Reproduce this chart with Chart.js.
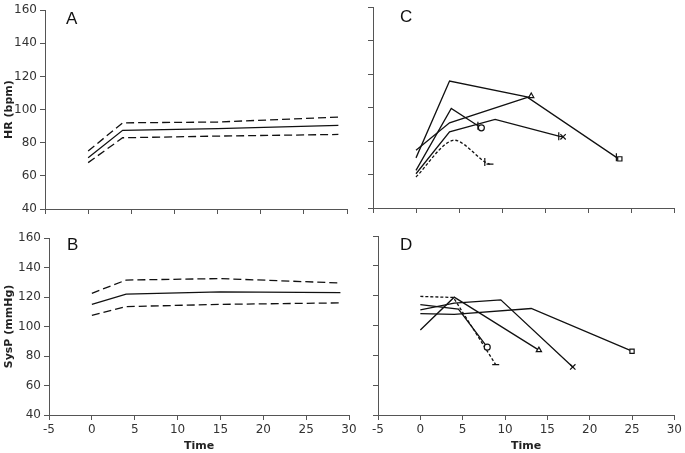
<!DOCTYPE html>
<html lang="en">
<head>
<meta charset="UTF-8">
<title>HR and SysP over time</title>
<script src="https://cdn.jsdelivr.net/npm/chart.js"></script>
<style>
    html, body { margin: 0; padding: 0; background: #fff; }
    #wrap { position: relative; width: 685px; height: 453px; }
    #wrap canvas { position: absolute; left: 0; top: 0; }
</style>
</head>
<body>
<div id="wrap">
    <canvas id="panelA" width="685" height="453"></canvas>
    <canvas id="panelB" width="685" height="453"></canvas>
    <canvas id="panelC" width="685" height="453"></canvas>
    <canvas id="panelD" width="685" height="453"></canvas>
</div>
<script>
    // A / B: group mean with upper and lower band
    const timeAB = [0, 4, 15, 29];
    const hrMean = [71, 87.5, 88.5, 90.5];
    const hrUpper = [75, 92, 92.5, 95.5];
    const hrLower = [68, 83, 84, 85];
    const sysMean = [115, 122, 123.5, 123];
    const sysUpper = [122.5, 131.5, 132.5, 129.5];
    const sysLower = [107.5, 113.5, 115, 116];

    // C: individual HR curves
    const cTriT = [0, 3.9, 13.4];
    const cTriY = [74.5, 91, 107];
    const cSqT = [0, 3.9, 12.9, 23.3, 23.7];
    const cSqY = [70, 116, 106.5, 70.3, 69.4];
    const cCirT = [0, 4.1, 7.2, 7.6];
    const cCirY = [62.5, 99.6, 89.2, 88];
    const cXT = [0, 3.9, 9.2, 16.6, 17.1];
    const cXY = [60.5, 85.6, 93, 83, 82.6];
    const cDashT = [0, 4.3, 8.0, 8.6];
    const cDashY = [58.6, 80.5, 67.6, 66.2];

    // D: individual SysP curves
    const dDashT = [0, 3.9, 8.9];
    const dDashY = [119.5, 118.8, 73.8];
    const dCirT = [0, 4.5, 7.9];
    const dCirY = [114, 111, 85.5];
    const dTriT = [0, 4, 14];
    const dTriY = [97, 119, 83.5];
    const dXT = [0, 4, 9.5, 18];
    const dXY = [110.5, 115, 117.2, 72.2];
    const dSqT = [0, 4, 13.1, 25];
    const dSqY = [108, 107.5, 111.4, 82.8];

    const ink = '#111';
    const axisInk = '#555';
    const tickFont = {family: '"DejaVu Sans", Verdana, sans-serif', size: 12};
    const titleFont = {family: '"DejaVu Sans", Verdana, sans-serif', size: 11, weight: 'bold'};

    function pts(xs, ys) {
        return xs.map((x, i) => ({x: x, y: ys[i]}));
    }

    function bandLine(xs, ys, dashed) {
        return {
            data: pts(xs, ys),
            showLine: true,
            borderColor: ink,
            borderWidth: 1.3,
            borderDash: dashed ? [8, 4] : [],
            pointRadius: 0
        };
    }

    // only the end of each curve gets a marker (plus a small '|' just before it when tick is set)
    function subject(xs, ys, mark, tick, dashed, smooth) {
        const n = xs.length;
        const style = xs.map(() => 'circle');
        const radius = xs.map(() => 0);
        const rot = xs.map(() => 0);
        style[n - 1] = mark;
        radius[n - 1] = mark === 'line' ? 3.5 : (mark === 'crossRot' ? 3.8 : 3);
        if (tick) {
            style[n - 2] = 'line';
            rot[n - 2] = 90;
            radius[n - 2] = 4;
        }
        return {
            data: pts(xs, ys),
            showLine: true,
            borderColor: ink,
            borderWidth: 1.3,
            borderDash: dashed ? [3, 2] : [],
            tension: smooth ? 0.3 : 0,
            pointStyle: style,
            pointRadius: radius,
            pointRotation: rot,
            pointBorderColor: ink,
            pointBackgroundColor: '#fff',
            pointBorderWidth: 1.2
        };
    }

    const panelLetter = {
        id: 'panelLetter',
        afterDraw(chart, args, opts) {
            const ctx = chart.ctx;
            ctx.save();
            ctx.font = '17px "Liberation Sans", Arial, sans-serif';
            ctx.fillStyle = ink;
            ctx.textAlign = 'left';
            ctx.textBaseline = 'middle';
            ctx.fillText(opts.text, chart.chartArea.left + opts.dx, chart.chartArea.top + opts.dy);
            ctx.restore();
        }
    };

    function axes(o) {
        return {
            x: {
                type: 'linear',
                min: -5,
                max: 30,
                ticks: {stepSize: 5, display: o.bottom, color: '#333', font: tickFont, padding: 3},
                grid: {drawOnChartArea: false, tickLength: 5, color: axisInk},
                border: {color: axisInk},
                title: {display: o.bottom, text: 'Time', color: '#222', font: titleFont, padding: 0},
                afterFit(s) { s.height = o.bottom ? 38 : 6; }
            },
            y: {
                type: 'linear',
                min: 40,
                max: 160,
                ticks: {stepSize: 20, display: o.left, color: '#333', font: tickFont, padding: 3},
                grid: {drawOnChartArea: false, tickLength: 5, color: axisInk},
                border: {color: axisInk},
                title: {display: !!o.yTitle, text: o.yTitle || '', color: '#222', font: titleFont, padding: 3},
                afterFit(s) { s.width = o.yWidth; }
            }
        };
    }

    function panel(id, datasets, o) {
        return new Chart(document.getElementById(id), {
            type: 'scatter',
            data: {datasets: datasets},
            options: {
                responsive: false,
                animation: false,
                events: [],
                layout: {padding: o.pad},
                plugins: {
                    legend: {display: false},
                    tooltip: {enabled: false},
                    panelLetter: o.letter
                },
                scales: axes(o)
            },
            plugins: [panelLetter]
        });
    }

    panel('panelA', [
        bandLine(timeAB, hrUpper, true),
        bandLine(timeAB, hrMean, false),
        bandLine(timeAB, hrLower, true)
    ], {
        bottom: false, left: true, yTitle: 'HR (bpm)', yWidth: 45,
        pad: {left: 0, top: 6, right: 338, bottom: 238},
        letter: {text: 'A', dx: 21, dy: 9}
    });

    panel('panelB', [
        bandLine(timeAB, sysUpper, true),
        bandLine(timeAB, sysMean, false),
        bandLine(timeAB, sysLower, true)
    ], {
        bottom: true, left: true, yTitle: 'SysP (mmHg)', yWidth: 49,
        pad: {left: 0, top: 238, right: 336, bottom: 0},
        letter: {text: 'B', dx: 18, dy: 7}
    });

    panel('panelC', [
        subject(cSqT, cSqY, 'rect', true, false, false),
        subject(cTriT, cTriY, 'triangle', false, false, false),
        subject(cCirT, cCirY, 'circle', true, false, false),
        subject(cXT, cXY, 'crossRot', true, false, false),
        subject(cDashT, cDashY, 'line', true, true, true)
    ], {
        bottom: false, left: false, yWidth: 5,
        pad: {left: 368, top: 7.5, right: 11, bottom: 239},
        letter: {text: 'C', dx: 27, dy: 10}
    });

    panel('panelD', [
        subject(dSqT, dSqY, 'rect', false, false, false),
        subject(dTriT, dTriY, 'triangle', false, false, false),
        subject(dCirT, dCirY, 'circle', false, false, false),
        subject(dXT, dXY, 'crossRot', false, false, false),
        subject(dDashT, dDashY, 'line', false, true, false)
    ], {
        bottom: true, left: false, yWidth: 5,
        pad: {left: 373, top: 236, right: 8, bottom: 0},
        letter: {text: 'D', dx: 22, dy: 9}
    });
</script>
</body>
</html>
